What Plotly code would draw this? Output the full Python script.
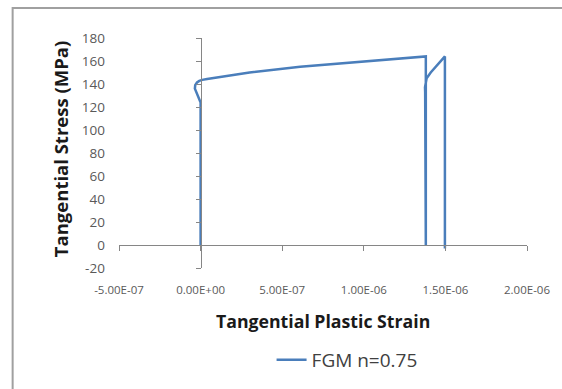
import plotly.graph_objects as go

# Data
strain = [0.0, 0.0, -0.012e-6, -0.026e-6, -0.035e-6, -0.033e-6, -0.022e-6, -0.008e-6, 0.01e-6,
          0.04e-6, 0.1e-6, 0.3e-6, 0.61e-6, 1.0e-6, 1.38e-6,
          1.38e-6, 1.38e-6, 1.376e-6, 1.375e-6, 1.378e-6, 1.385e-6, 1.41e-6, 1.45e-6,
          1.497e-6, 1.497e-6]
stress = [0, 124, 128, 132, 136, 139, 141.3, 142.7, 143.6,
          144.4, 145.8, 150, 155, 159.6, 164,
          0, 128, 133, 137, 141, 145, 150, 156.5,
          164, -3]

x_tickvals = [-5e-7, 0, 5e-7, 1e-6, 1.5e-6, 2e-6]
x_ticktext = ["-5.00E-07", "0.00E+00", "5.00E-07", "1.00E-06", "1.50E-06", "2.00E-06"]
y_tickvals = [-20, 0, 20, 40, 60, 80, 100, 120, 140, 160, 180]
y_ticktext = ["-20", "0", "20", "40", "60", "80", "100", "120", "140", "160", "180"]

series_name = "FGM n=0.75"

fig = go.Figure()
fig.add_trace(go.Scatter(x=strain, y=stress, mode="lines", name=series_name,
                         line=dict(color="#4A7EBB", width=2.5)))

font_fam = "Open Sans, DejaVu Sans, sans-serif"
fig.update_layout(
    width=562, height=389,
    margin=dict(l=118.5, r=35, t=38, b=120),
    paper_bgcolor="white", plot_bgcolor="white",
    showlegend=True,
    legend=dict(orientation="h", x=0.559, y=-0.394, xanchor="center", yanchor="middle",
                font=dict(family=font_fam, size=19, color="#404040"),
                bgcolor="rgba(0,0,0,0)"),
    xaxis=dict(range=[-5e-7, 2e-6], tickvals=x_tickvals, ticktext=x_ticktext,
               anchor="free", position=0.1, showline=True, linecolor="#868686", linewidth=1,
               ticks="outside", ticklen=5, tickcolor="#868686", showgrid=False, zeroline=False,
               tickfont=dict(family=font_fam, size=11.5, color="#595959"), ticklabelstandoff=29),
    yaxis=dict(range=[-20, 180], tickvals=y_tickvals, ticktext=y_ticktext,
               anchor="free", position=0.2, showline=True, linecolor="#868686", linewidth=1,
               ticks="outside", ticklen=5, tickcolor="#868686", showgrid=False, zeroline=False,
               tickfont=dict(family=font_fam, size=13.5, color="#595959"), ticklabelstandoff=88),
    annotations=[
        dict(text="<b>Tangential Plastic Strain</b>", xref="paper", yref="paper",
             x=0.5, y=-0.229, xanchor="center", yanchor="middle", showarrow=False,
             font=dict(family=font_fam, size=17.7, color="#1a1a1a")),
        dict(text="<b>Tangential Stress (MPa)</b>", xref="paper", yref="paper",
             x=-0.143, y=0.515, xanchor="center", yanchor="middle", showarrow=False, textangle=-90,
             font=dict(family=font_fam, size=18.5, color="#1a1a1a")),
    ],
    shapes=[dict(type="rect", xref="paper", yref="paper", x0=-0.2607, x1=1.3, y0=-0.7, y1=1.13,
                 line=dict(color="#A0A0A0", width=2), fillcolor="rgba(0,0,0,0)", layer="below")],
)

fig.write_html("out.html")
